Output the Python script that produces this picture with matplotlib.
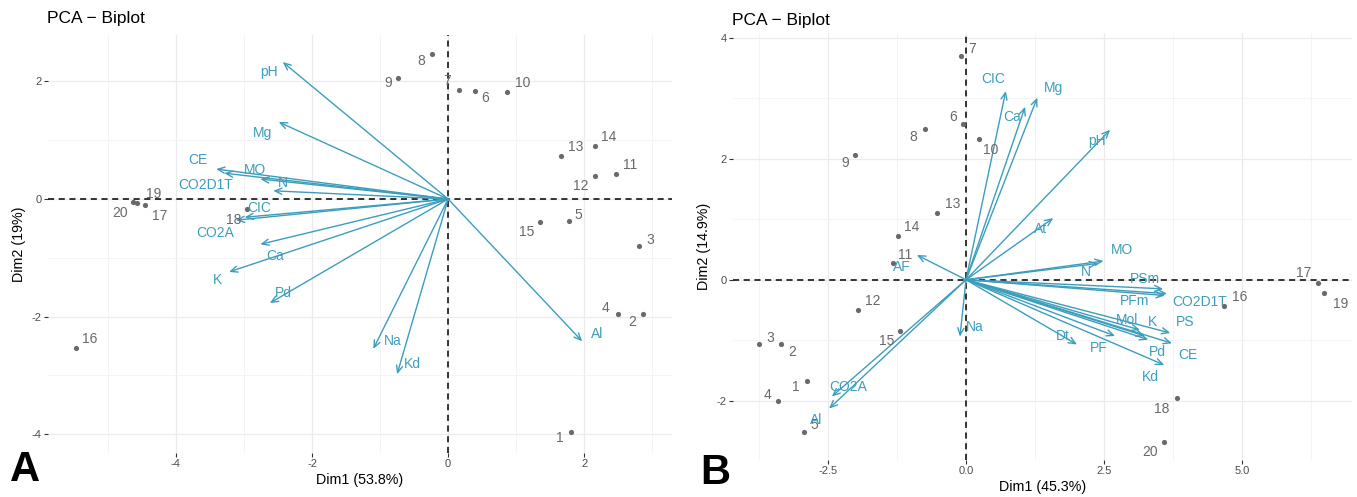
import matplotlib
matplotlib.use("Agg")
import matplotlib.pyplot as plt

plt.rcParams['font.family'] = ['Liberation Sans', 'DejaVu Sans']

# ---------------- Panel A data ----------------
a_ind_labels = ['1', '2', '3', '4', '5', '6', '7', '8', '9', '10',
                '11', '12', '13', '14', '15', '16', '17', '18', '19', '20']
a_ind_x = [1.81, 2.87, 2.81, 2.49, 1.77, 0.40, 0.16, -0.23, -0.74, 0.87,
           2.46, 2.16, 1.66, 2.16, 1.35, -5.47, -4.46, -2.96, -4.57, -4.63]
a_ind_y = [-3.97, -1.96, -0.80, -1.96, -0.38, 1.84, 1.86, 2.47, 2.06, 1.82,
           0.42, 0.40, 0.73, 0.90, -0.39, -2.54, -0.11, -0.17, -0.07, -0.05]

a_var_labels = ['pH', 'Mg', 'CE', 'CO2D1T', 'MO', 'N', 'CIC', 'CO2A',
                'Ca', 'K', 'Pd', 'Na', 'Kd', 'Al']
a_var_x = [-2.43, -2.49, -3.41, -3.29, -2.76, -2.57, -2.99, -3.12,
           -2.76, -3.22, -2.62, -1.10, -0.75, 1.97]
a_var_y = [2.33, 1.31, 0.51, 0.44, 0.34, 0.14, -0.31, -0.36,
           -0.77, -1.24, -1.77, -2.55, -2.98, -2.42]

# ---------------- Panel B data ----------------
b_ind_labels = ['1', '2', '3', '4', '5', '6', '7', '8', '9', '10',
                '11', '12', '13', '14', '15', '16', '17', '18', '19', '20']
b_ind_x = [-2.88, -3.35, -3.75, -3.41, -2.93, -0.05, -0.09, -0.74, -2.01, 0.24,
           -1.32, -1.96, -0.53, -1.23, -1.20, 4.67, 6.38, 3.82, 6.49, 3.59]
b_ind_y = [-1.68, -1.07, -1.06, -2.00, -2.51, 2.58, 3.70, 2.50, 2.07, 2.33,
           0.28, -0.50, 1.11, 0.73, -0.84, -0.43, -0.05, -1.95, -0.22, -2.68]

b_var_labels = ['CIC', 'Ca', 'Mg', 'pH', 'At', 'AF', 'MO', 'N', 'PSm', 'PFm',
                'CO2D1T', 'Mol', 'K', 'PS', 'CE', 'Pd', 'Kd', 'PF', 'Dt',
                'Na', 'CO2A', 'Al']
b_var_x = [0.72, 1.07, 1.29, 2.61, 1.58, -0.89, 2.49, 2.39, 3.57, 3.60,
           3.64, 3.15, 3.24, 3.70, 3.73, 3.30, 3.59, 2.70, 2.01,
           -0.11, -2.43, -2.48]
b_var_y = [3.12, 2.86, 3.01, 2.48, 1.02, 0.41, 0.31, 0.27, -0.15, -0.26,
           -0.23, -0.83, -0.93, -0.88, -1.05, -0.99, -1.41, -0.93, -1.07,
           -0.94, -1.93, -2.13]

# ---------------- label offsets (pixels) ----------------
a_ind_off = {'1': (-11, -6), '2': (-11, -8), '3': (11, 6), '4': (-12, 6),
             '5': (10, 6), '6': (10, -7), '7': (-12, 9), '8': (-11, -7),
             '9': (-10, -5), '10': (15, 9), '11': (15, 9), '12': (-14, -10),
             '13': (15, 9), '14': (14, 9), '15': (-13, -10), '16': (14, 9),
             '17': (15, -11), '18': (-13, -11), '19': (16, 9), '20': (-13, -11)}
a_var_off = {'pH': (-14, -10), 'Mg': (-16, -11), 'CE': (-18, 9),
             'CO2D1T': (-19, -12), 'MO': (-5, 9), 'N': (10, 8),
             'CIC': (15, 9), 'CO2A': (-21, -13), 'Ca': (15, -12),
             'K': (-12, -8), 'Pd': (14, 10), 'Na': (19, 8), 'Kd': (15, 10),
             'Al': (15, 7)}
b_ind_off = {'7': (11, 7), '6': (-10, 7), '8': (-12, -8), '10': (11, -11),
             '9': (-10, -8), '13': (16, 9), '14': (14, 9), '11': (12, 8),
             '12': (15, 9), '15': (-13, -10), '3': (11, 6), '2': (11, -8),
             '1': (-11, -6), '4': (-10, 6), '5': (10, 7), '16': (16, 9),
             '17': (-15, 10), '19': (16, -11), '18': (-15, -11), '20': (-14, -10)}
b_var_off = {'CIC': (-13, 12), 'Ca': (-13, -10), 'Mg': (16, 10),
             'pH': (-13, -11), 'At': (-13, -11), 'AF': (-15, -12),
             'MO': (18, 11), 'N': (-12, -9), 'PSm': (-18, 10),
             'PFm': (-30, -6), 'CO2D1T': (33, -8), 'Mol': (-13, 10),
             'K': (8, 14), 'PS': (15, 11), 'CE': (16, -12), 'Pd': (9, -12),
             'Kd': (-14, -12), 'PF': (-16, -12), 'Dt': (-14, 8),
             'Na': (15, 10), 'CO2A': (16, 9), 'Al': (-13, -11)}

VAR_COL = '#3d9dbd'
IND_COL = '#696969'
W, H = 1357, 497

fig = plt.figure(figsize=(W / 100, H / 100), dpi=100)


def make_axes(l, r, t, b):
    return fig.add_axes([l / W, 1 - b / H, (r - l) / W, (b - t) / H])


def style(ax, xlim, ylim, xmaj, xmin, ymaj, ymin, xfmt):
    ax.set_xlim(*xlim)
    ax.set_ylim(*ylim)
    for s in ax.spines.values():
        s.set_visible(False)
    ax.set_xticks(xmaj)
    ax.set_xticklabels([xfmt(v) for v in xmaj])
    ax.set_yticks(ymaj)
    ax.set_yticklabels(['%g' % v for v in ymaj])
    ax.set_xticks(xmin, minor=True)
    ax.set_yticks(ymin, minor=True)
    ax.tick_params(which='major', length=3, width=0.8, color='#333333',
                   labelsize=8, labelcolor='#4d4d4d', pad=1.5)
    ax.tick_params(which='minor', length=0)
    ax.grid(which='major', color='#ebebeb', lw=0.9, zorder=0)
    ax.grid(which='minor', color='#f3f3f3', lw=0.6, zorder=0)
    ax.set_axisbelow(True)
    ax.axhline(0, color='black', ls=(0, (4, 3)), lw=1.1, zorder=1)
    ax.axvline(0, color='black', ls=(0, (4, 3)), lw=1.1, zorder=1)


def draw(ax, ix, iy, il, ioff, vx, vy, vl, voff):
    ax.scatter(ix, iy, s=14, color=IND_COL, zorder=3, linewidths=0)
    for x, y, lab in zip(ix, iy, il):
        dx, dy = ioff[lab]
        ax.annotate(lab, (x, y), xytext=(dx, dy), textcoords='offset pixels',
                    ha='center', va='center', fontsize=10, color=IND_COL,
                    zorder=4)
    for x, y, lab in zip(vx, vy, vl):
        ax.annotate('', xy=(x, y), xytext=(0, 0),
                    arrowprops=dict(arrowstyle='->,head_length=0.5,head_width=0.22',
                                    color=VAR_COL, lw=1.0,
                                    shrinkA=0, shrinkB=0), zorder=2)
        dx, dy = voff[lab]
        ax.annotate(lab, (x, y), xytext=(dx, dy), textcoords='offset pixels',
                    ha='center', va='center', fontsize=10, color=VAR_COL,
                    zorder=4)


# Panel A
axA = make_axes(48, 672, 35, 453)
style(axA, (-5.88, 3.29), (-4.32, 2.79), [-4, -2, 0, 2], [-5, -3, -1, 1, 3],
      [-4, -2, 0, 2], [-3, -1, 1], lambda v: '%g' % v)
draw(axA, a_ind_x, a_ind_y, a_ind_labels, a_ind_off,
     a_var_x, a_var_y, a_var_labels, a_var_off)
axA.set_xlabel('Dim1 (53.8%)', fontsize=10.3, labelpad=3)
axA.set_ylabel('Dim2 (19%)', fontsize=10.3, labelpad=4)
fig.text(47 / W, 1 - 18 / H, 'PCA \u2212 Biplot', fontsize=12.5,
         ha='left', va='center')
fig.text(10 / W, 1 - 470 / H, 'A', fontsize=30, fontweight='bold',
         ha='left', va='center')

# Panel B
axB = make_axes(733, 1352, 33, 460)
style(axB, (-4.22, 6.99), (-2.98, 4.08), [-2.5, 0, 2.5, 5.0],
      [-3.75, -1.25, 1.25, 3.75, 6.25], [-2, 0, 2, 4], [-1, 1, 3],
      lambda v: '%.1f' % v)
draw(axB, b_ind_x, b_ind_y, b_ind_labels, b_ind_off,
     b_var_x, b_var_y, b_var_labels, b_var_off)
axB.set_xlabel('Dim1 (45.3%)', fontsize=10.3, labelpad=3)
axB.set_ylabel('Dim2 (14.9%)', fontsize=10.3, labelpad=4)
fig.text(732 / W, 1 - 20 / H, 'PCA \u2212 Biplot', fontsize=12.5,
         ha='left', va='center')
fig.text(700 / W, 1 - 473 / H, 'B', fontsize=30, fontweight='bold',
         ha='left', va='center')

fig.savefig('out.png', dpi=100)
